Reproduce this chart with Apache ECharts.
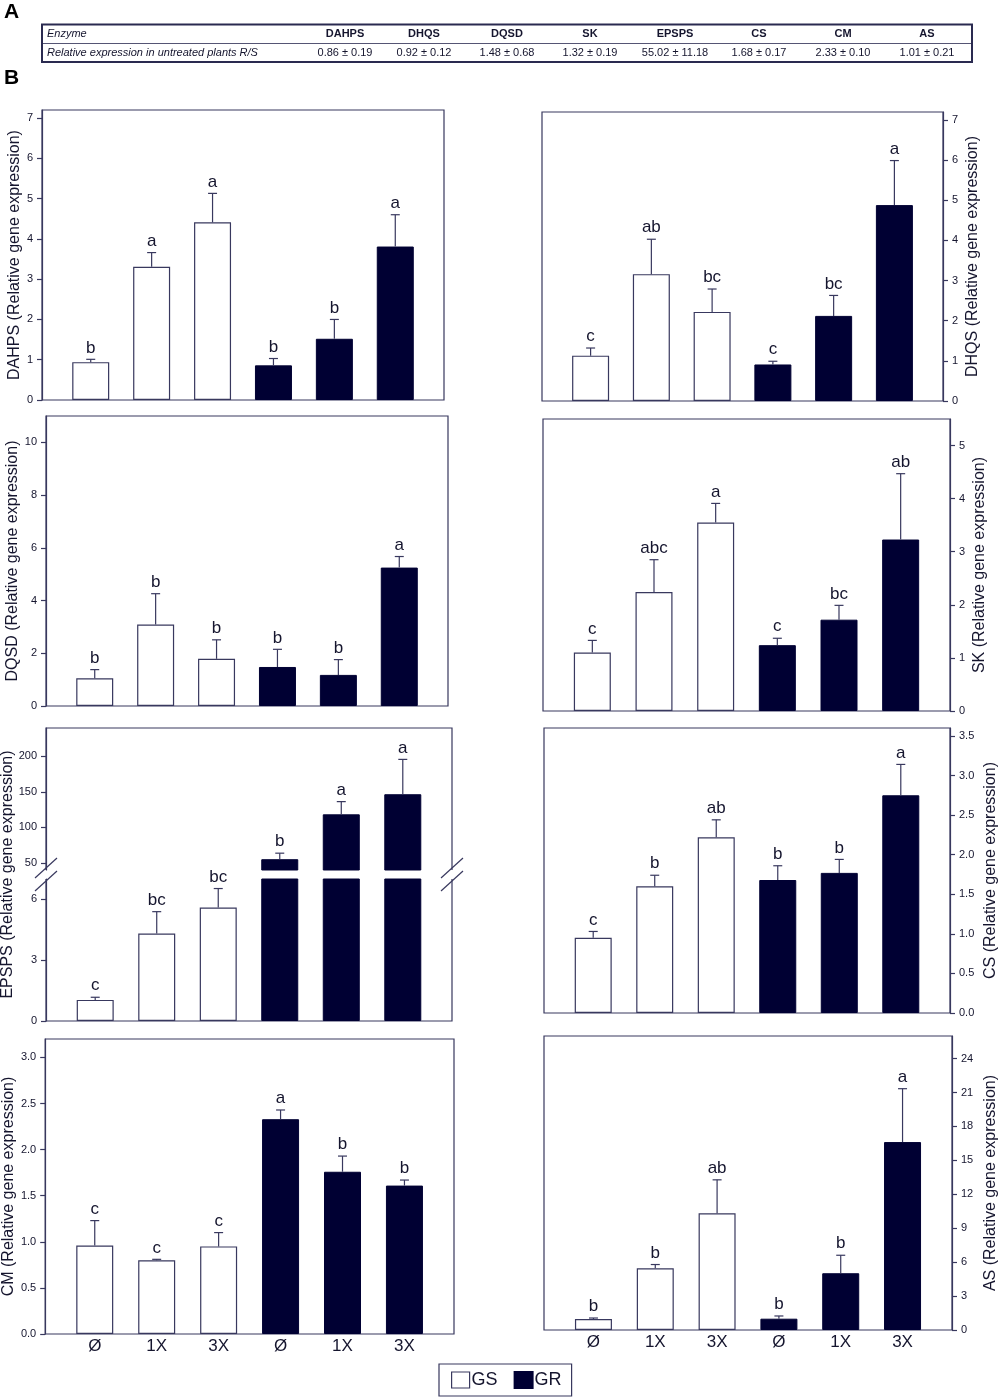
<!DOCTYPE html>
<html>
<head>
<meta charset="utf-8">
<title>Shikimate pathway gene expression</title>
<script src="https://cdn.jsdelivr.net/npm/echarts@6/dist/echarts.min.js"></script>
<style>
  html, body { margin: 0; padding: 0; background: #fff; }
  #main { width: 1000px; height: 1397px; }
</style>
</head>
<body>
<div id="main"></div>
<script>
// ---- data ----
var treatments = ['Ø', '1X', '3X', 'Ø', '1X', '3X'];
var enzymes = ['DAHPS', 'DHQS', 'DQSD', 'SK', 'EPSPS', 'CS', 'CM', 'AS'];
var ratioRS = ['0.86 ± 0.19', '0.92 ± 0.12', '1.48 ± 0.68', '1.32 ± 0.19',
               '55.02 ± 11.18', '1.68 ± 0.17', '2.33 ± 0.10', '1.01 ± 0.21'];

var dahpsMean = [0.94, 3.31, 4.41, 0.86, 1.52, 3.81];
var dahpsErr = [0.07, 0.35, 0.72, 0.17, 0.48, 0.79];
var dahpsLetters = ['b', 'a', 'a', 'b', 'b', 'a'];
var dahpsTicks = [0, 1, 2, 3, 4, 5, 6, 7];

var dhqsMean = [1.13, 3.16, 2.22, 0.91, 2.12, 4.88];
var dhqsErr = [0.19, 0.87, 0.57, 0.08, 0.51, 1.11];
var dhqsLetters = ['c', 'ab', 'bc', 'c', 'bc', 'a'];
var dhqsTicks = [0, 1, 2, 3, 4, 5, 6, 7];

var dqsdMean = [1.05, 3.09, 1.79, 1.48, 1.18, 5.25];
var dqsdErr = [0.33, 1.17, 0.72, 0.67, 0.58, 0.42];
var dqsdLetters = ['b', 'b', 'b', 'b', 'b', 'a'];
var dqsdTicks = [0, 2, 4, 6, 8, 10];

var skMean = [1.10, 2.24, 3.55, 1.24, 1.72, 3.23];
var skErr = [0.23, 0.61, 0.36, 0.13, 0.27, 1.24];
var skLetters = ['c', 'abc', 'a', 'c', 'bc', 'ab'];
var skTicks = [0, 1, 2, 3, 4, 5];

var epspsMean = [1.04, 4.31, 5.59, 55.2, 118.4, 146.7];
var epspsErr = [0.13, 1.08, 0.94, 8.5, 17.9, 49.1];
var epspsLetters = ['c', 'bc', 'bc', 'b', 'a', 'a'];
var epspsLowTicks = [0, 3, 6];
var epspsHighTicks = [50, 100, 150, 200];

var csMean = [0.95, 1.60, 2.22, 1.68, 1.77, 2.75];
var csErr = [0.08, 0.14, 0.22, 0.18, 0.17, 0.39];
var csLetters = ['c', 'b', 'ab', 'b', 'b', 'a'];
var csTicks = [0, 0.5, 1, 1.5, 2, 2.5, 3, 3.5];

var cmMean = [0.96, 0.80, 0.95, 2.33, 1.76, 1.61];
var cmErr = [0.27, 0.01, 0.15, 0.10, 0.17, 0.06];
var cmLetters = ['c', 'c', 'c', 'a', 'b', 'b'];
var cmTicks = [0, 0.5, 1, 1.5, 2, 2.5, 3];

var asMean = [0.97, 5.46, 10.33, 1.00, 5.02, 16.62];
var asErr = [0.09, 0.33, 2.95, 0.24, 1.59, 4.72];
var asLetters = ['b', 'b', 'ab', 'b', 'b', 'a'];
var asTicks = [0, 3, 6, 9, 12, 15, 18, 21, 24];

// ---- styling ----
var FONT = "'Liberation Sans', Arial, sans-serif";
var NAVY = '#000033';
var EDGE = '#38385e';
var INK = '#15152e';

var grids = [], xAxes = [], yAxes = [], series = [], graphics = [];

// error bar + significance letter, drawn through the axes
function errorItem(letters) {
  return function (params, api) {
    var i = params.dataIndex;
    var p0 = api.coord([api.value(0), api.value(1)]);
    var p1 = api.coord([api.value(0), api.value(1) + api.value(2)]);
    var cs = params.coordSys;
    if (p0[1] < cs.y - 0.5 || p0[1] > cs.y + cs.height + 0.5) return null;
    return {
      type: 'group',
      children: [
        { type: 'line', shape: { x1: p0[0], y1: p0[1], x2: p1[0], y2: p1[1] },
          style: { stroke: EDGE, lineWidth: 1.2 } },
        { type: 'line', shape: { x1: p1[0] - 4.5, y1: p1[1], x2: p1[0] + 4.5, y2: p1[1] },
          style: { stroke: EDGE, lineWidth: 1.2 } },
        { type: 'text', x: p1[0], y: p1[1] - 3,
          style: { text: letters[i], fill: INK, fontSize: 17, fontFamily: FONT,
                   align: 'center', verticalAlign: 'bottom',
                   textAlign: 'center', textVerticalAlign: 'bottom' } }
      ]
    };
  };
}

function addPanel(o) {
  var gi = grids.length;
  grids.push({
    left: o.box[0], top: o.box[1], width: o.box[2] - o.box[0], height: o.box[3] - o.box[1],
    show: o.frame !== false, borderColor: EDGE, borderWidth: 1.2, backgroundColor: 'transparent'
  });
  xAxes.push({
    type: 'value', gridIndex: gi, min: -0.8, max: 5.8, show: !!o.bottom,
    axisLine: { show: false, onZero: false }, axisTick: { show: false }, splitLine: { show: false },
    axisLabel: {
      customValues: [0, 1, 2, 3, 4, 5], fontSize: 17, color: INK, fontFamily: FONT, margin: 4,
      formatter: function (v) { return treatments[Math.round(v)]; }
    }
  });
  yAxes.push({
    type: 'value', gridIndex: gi, position: o.side, min: o.min || 0, max: o.max,
    axisLine: { show: true, onZero: false, lineStyle: { color: EDGE, width: 1.2 } },
    axisTick: { show: true, length: 5, customValues: o.ticks, lineStyle: { color: EDGE, width: 1.2 } },
    axisLabel: {
      customValues: o.ticks, fontSize: 11, color: INK, fontFamily: FONT, margin: 9,
      formatter: function (v) { return v.toFixed(o.dec || 0); }
    },
    splitLine: { show: false },
    name: o.name || '', nameLocation: 'middle', nameRotate: 90, nameGap: o.gap || 20,
    nameTextStyle: { fontSize: 16, color: INK, fontFamily: FONT }
  });
  var gs = [], gr = [], eb = [];
  o.mean.forEach(function (v, i) {
    (i < 3 ? gs : gr).push([i, v]);
    eb.push([i, v, o.err[i]]);
  });
  series.push({
    type: 'bar', name: 'GS', xAxisIndex: gi, yAxisIndex: gi, barWidth: 37, barGap: '-100%',
    data: gs, itemStyle: { color: '#ffffff', borderColor: EDGE, borderWidth: 1.2 }
  });
  series.push({
    type: 'bar', name: 'GR', xAxisIndex: gi, yAxisIndex: gi, barWidth: 37, barGap: '-100%',
    data: gr, itemStyle: { color: NAVY, borderColor: NAVY, borderWidth: 1 }
  });
  series.push({
    type: 'custom', xAxisIndex: gi, yAxisIndex: gi, z: 3, data: eb,
    renderItem: errorItem(o.letters)
  });
}

addPanel({ name: 'DAHPS (Relative gene expression)', mean: dahpsMean, err: dahpsErr, letters: dahpsLetters,
  ticks: dahpsTicks, box: [42, 110, 444, 400], side: 'left', max: 7.2, gap: 19 });
addPanel({ name: 'DHQS (Relative gene expression)', mean: dhqsMean, err: dhqsErr, letters: dhqsLetters,
  ticks: dhqsTicks, box: [542, 112, 943, 401], side: 'right', max: 7.2, gap: 22 });
addPanel({ name: 'DQSD (Relative gene expression)', mean: dqsdMean, err: dqsdErr, letters: dqsdLetters,
  ticks: dqsdTicks, box: [46, 416, 448, 706], side: 'left', max: 11, gap: 24 });
addPanel({ name: 'SK (Relative gene expression)', mean: skMean, err: skErr, letters: skLetters,
  ticks: skTicks, box: [543, 419, 950, 711], side: 'right', max: 5.5, gap: 22 });
// EPSPS: broken axis -> two grids sharing one frame
addPanel({ mean: epspsMean, err: epspsErr, letters: epspsLetters, ticks: epspsHighTicks,
  box: [46, 728, 452, 870], side: 'left', min: 40, max: 240, frame: false });
addPanel({ mean: epspsMean, err: epspsErr, letters: epspsLetters, ticks: epspsLowTicks,
  box: [46, 879, 452, 1021], side: 'left', max: 7, frame: false });
addPanel({ name: 'CS (Relative gene expression)', mean: csMean, err: csErr, letters: csLetters,
  ticks: csTicks, box: [544, 728, 952, 1013], side: 'right', max: 3.6, dec: 1, gap: 33 });
addPanel({ name: 'CM (Relative gene expression)', mean: cmMean, err: cmErr, letters: cmLetters,
  ticks: cmTicks, box: [45, 1039, 454, 1334], side: 'left', max: 3.2, dec: 1, gap: 28, bottom: true });
addPanel({ name: 'AS (Relative gene expression)', mean: asMean, err: asErr, letters: asLetters,
  ticks: asTicks, box: [544, 1036, 954, 1330], side: 'right', max: 26, gap: 31, bottom: true });

// EPSPS frame with break marks
var eL = 46, eR = 452, eT = 728, eB = 1021, eU = 870, eD = 879;
graphics.push({ type: 'polyline', shape: { points: [[eL, eU], [eL, eT], [eR, eT], [eR, eU]] },
  style: { stroke: EDGE, lineWidth: 1.2, fill: null } });
graphics.push({ type: 'polyline', shape: { points: [[eL, eD], [eL, eB], [eR, eB], [eR, eD]] },
  style: { stroke: EDGE, lineWidth: 1.2, fill: null } });
[eL, eR].forEach(function (x) {
  graphics.push({ type: 'line', shape: { x1: x - 11, y1: eU + 8, x2: x + 11, y2: eU - 12 },
    style: { stroke: EDGE, lineWidth: 1.2 } });
  graphics.push({ type: 'line', shape: { x1: x - 11, y1: eD + 12, x2: x + 11, y2: eD - 8 },
    style: { stroke: EDGE, lineWidth: 1.2 } });
});
graphics.push({ type: 'text', x: 8, y: (eT + eB) / 2, rotation: Math.PI / 2,
  style: { text: 'EPSPS (Relative gene expression)', fill: INK, fontSize: 16, fontFamily: FONT,
           align: 'center', verticalAlign: 'middle', textAlign: 'center', textVerticalAlign: 'middle' } });

// panel letters
graphics.push({ type: 'text', x: 4, y: 2, style: { text: 'A', fill: '#000', fontSize: 21, fontWeight: 'bold', fontFamily: FONT } });
graphics.push({ type: 'text', x: 4, y: 68, style: { text: 'B', fill: '#000', fontSize: 21, fontWeight: 'bold', fontFamily: FONT } });

// table A
var tL = 42, tR = 972, tT = 24.5, tB = 62, tM = 43.5;
var colX = [345, 424, 507, 590, 675, 759, 843, 927];
graphics.push({ type: 'rect', shape: { x: tL, y: tT, width: tR - tL, height: tB - tT },
  style: { stroke: '#2a2a50', lineWidth: 2, fill: null } });
graphics.push({ type: 'line', shape: { x1: tL, y1: tM, x2: tR, y2: tM },
  style: { stroke: '#2a2a50', lineWidth: 0.8 } });
graphics.push({ type: 'text', x: tL + 5, y: (tT + tM) / 2,
  style: { text: 'Enzyme', fill: INK, fontSize: 11, fontStyle: 'italic', fontFamily: FONT,
           verticalAlign: 'middle', textVerticalAlign: 'middle' } });
graphics.push({ type: 'text', x: tL + 5, y: (tM + tB) / 2,
  style: { text: 'Relative expression in untreated plants R/S', fill: INK, fontSize: 11,
           fontStyle: 'italic', fontFamily: FONT, verticalAlign: 'middle', textVerticalAlign: 'middle' } });
enzymes.forEach(function (e, i) {
  graphics.push({ type: 'text', x: colX[i], y: (tT + tM) / 2,
    style: { text: e, fill: INK, fontSize: 11, fontWeight: 'bold', fontFamily: FONT,
             align: 'center', verticalAlign: 'middle', textAlign: 'center', textVerticalAlign: 'middle' } });
  graphics.push({ type: 'text', x: colX[i], y: (tM + tB) / 2,
    style: { text: ratioRS[i], fill: INK, fontSize: 11, fontFamily: FONT,
             align: 'center', verticalAlign: 'middle', textAlign: 'center', textVerticalAlign: 'middle' } });
});

var chart = echarts.init(document.getElementById('main'));
chart.setOption({
  animation: false,
  backgroundColor: '#ffffff',
  grid: grids,
  xAxis: xAxes,
  yAxis: yAxes,
  series: series,
  graphic: graphics,
  legend: {
    left: 439, top: 1364, selectedMode: false,
    data: [
      { name: 'GS', itemStyle: { color: '#ffffff', borderColor: EDGE, borderWidth: 1.2 } },
      { name: 'GR', itemStyle: { color: NAVY } }
    ],
    icon: 'rect', itemWidth: 18, itemHeight: 16, itemGap: 16,
    padding: [7, 10, 7, 12], borderColor: EDGE, borderWidth: 1.2,
    textStyle: { fontSize: 18, color: INK, fontFamily: FONT, padding: [0, 0, 0, -3] }
  }
});
</script>
</body>
</html>
